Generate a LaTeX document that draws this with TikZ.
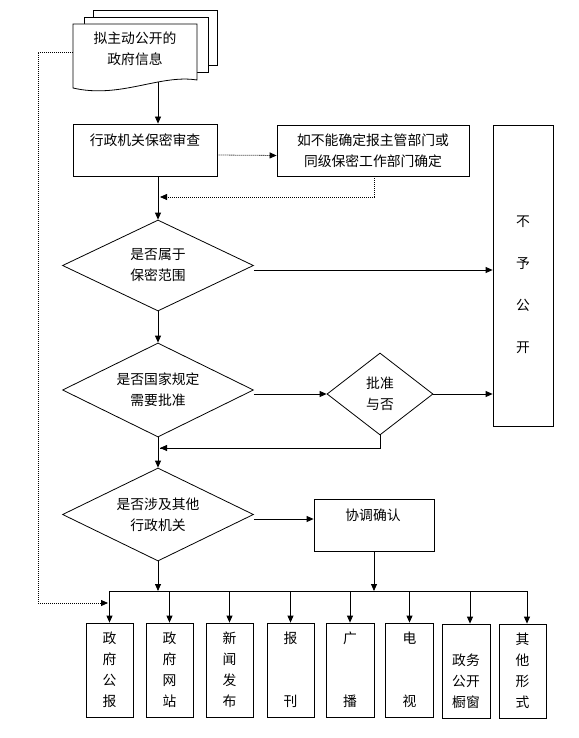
\documentclass[tikz,border=0pt]{standalone}
\usepackage{fontspec}
\newfontfamily\cjk{Noto Sans CJK SC}
\usetikzlibrary{shapes.geometric,arrows.meta,calc}
\begin{document}
\begin{tikzpicture}[x=1pt,y=-1pt, line width=0.8pt,
  every node/.style={font=\cjk\fontsize{13.8}{21}\selectfont, inner sep=0pt, align=center},
  box/.style={draw, rectangle, fill=white},
  dia/.style={draw, diamond, aspect=2, inner sep=0pt},
  arr/.style={-{Triangle[length=7pt,width=6pt]}},
  dot/.style={dash pattern=on 1pt off 1pt},
  tall/.style={font=\cjk\fontsize{13.8}{42}\selectfont}
]
\useasboundingbox (0,0) rectangle (578,738);
% document stack
\draw[fill=white] (93,10) rectangle (217,65);
\draw[fill=white] (84,17) rectangle (208,72);
\draw[fill=white] (73,24) -- (197,24) -- (197,80) .. controls (160,74) and (120,99) .. (73,88) -- cycle;
\node (doctext) at (135,49) {拟主动公开的\\政府信息};
\coordinate (docS) at (158,82);
\coordinate (docW) at (73,52);
\coordinate (spine) at (158,0);

% boxes
\node[box, minimum width=144, minimum height=52] (b1) at (145,150) {};
\node (b1t) at (145,140) {行政机关保密审查};
\node[box, minimum width=192, minimum height=51] (b2) at (373,150.5) {如不能确定报主管部门或\\同级保密工作部门确定};
\node[box, minimum width=60, minimum height=301] (nb) at (523,275.5) {};
\node[tall] (nbt) at (523,285) {不\\予\\公\\开};

\node[dia, minimum width=191, minimum height=91] (d1) at (158,265.5) {是否属于\\保密范围};
\node[dia, minimum width=191, minimum height=94] (d2) at (158,390) {是否国家规定\\需要批准};
\node[dia, minimum width=106, minimum height=82] (bt) at (380,394) {批准\\与否};
\node[dia, minimum width=191, minimum height=93] (d3) at (158,514.5) {是否涉及其他\\行政机关};
\node[box, minimum width=120, minimum height=52] (cb) at (374,525) {};
\node (cbt) at (373,515) {协调确认};

% bottom boxes
\node[box, minimum width=47, minimum height=94] (m1) at (109.5,670) {政\\府\\公\\报};
\node[box, minimum width=47, minimum height=94] (m2) at (169.5,670) {政\\府\\网\\站};
\node[box, minimum width=47, minimum height=94] (m3) at (229.5,670) {新\\闻\\发\\布};
\node[box, minimum width=47, minimum height=94] (m4) at (290.5,670) {报\\[42pt]刊};
\node[box, minimum width=48, minimum height=94] (m5) at (350,670) {广\\[42pt]播};
\node[box, minimum width=48, minimum height=94] (m6) at (409.5,670) {电\\[42pt]视};
\node[box, minimum width=48, minimum height=94] (m7) at (466,671) {\vphantom{政}\\政务\\公开\\橱窗};
\node[box, minimum width=47, minimum height=94] (m8) at (522.5,671) {其\\他\\形\\式};

% connectors
\draw[arr] (docS) -- (b1.north -| spine);
\draw[dot,arr] ([yshift=-5pt]b1.east) -- ([yshift=-5pt]b2.west);
\coordinate (r1) at (160,197);
\draw[dot,arr] ([xshift=1pt]b2.south) |- (r1);
\draw[arr] (b1.south -| spine) -- (d1.north);
\draw[arr] ([yshift=-4.5pt]d1.east) -- ([yshift=-4.5pt]d1.east -| nb.west);
\draw[arr] (d1.south) -- (d2.north);
\draw[arr] (d2.east |- bt.west) -- (bt.west);
\draw[arr] (bt.east) -- (bt.east -| nb.west);
\coordinate (r2) at (160,448);
\draw (bt.south) |- (r2);
\draw[arr] (bt.south |- r2) -- (r2);
\draw[arr] (d2.south) -- (d3.north);
\draw[arr] ([yshift=-4.5pt]d3.east) -- ([yshift=-4.5pt]d3.east -| cb.west);

\coordinate (busL) at (109.5,591);
\coordinate (busR) at (527,591);
\draw (busL) -- (busR);
\draw[arr] (d3.south) -- (d3.south |- busL);
\draw[arr] (cb.south) -- (cb.south |- busL);
\foreach \m in {m1,m2,m3,m4,m5,m6}{
  \draw[arr] (\m.north |- busL) -- (\m.north);
}
\draw[arr] ([xshift=4pt]m7.north |- busL) -- ([xshift=4pt]m7.north);
\draw[arr] ([xshift=4.5pt]m8.north |- busL) -- ([xshift=4.5pt]m8.north);

\coordinate (dl) at (108,603);
\draw[dot,arr] (docW) -- (38,52) |- (dl);
\end{tikzpicture}
\end{document}
